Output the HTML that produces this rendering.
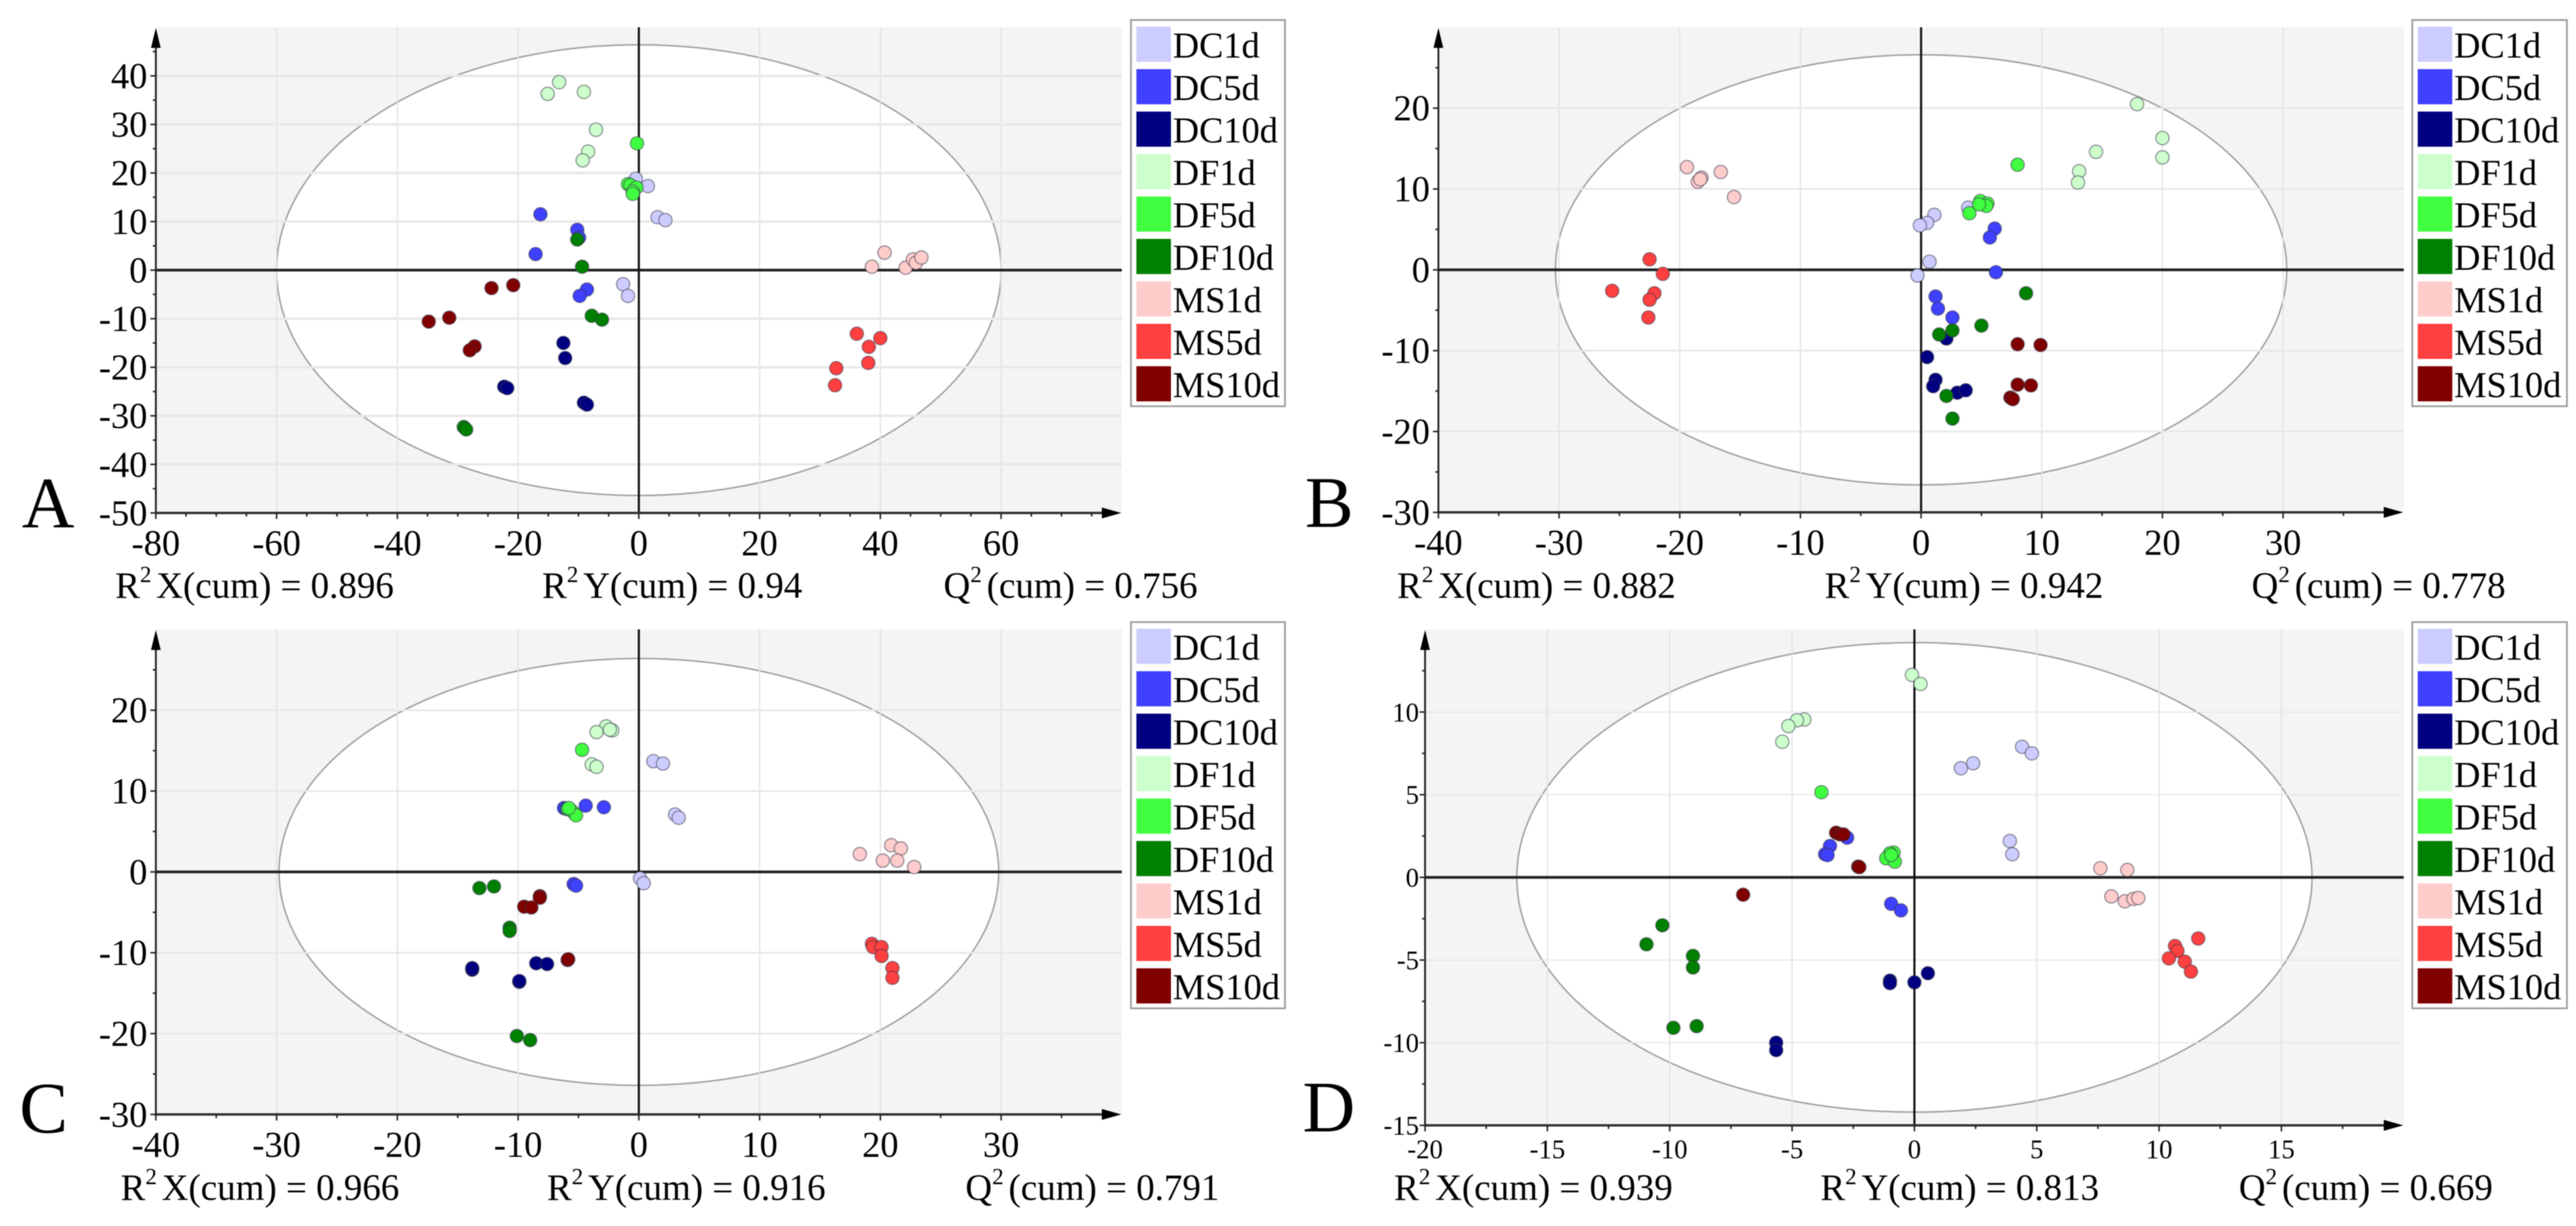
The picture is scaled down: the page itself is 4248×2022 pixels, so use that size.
<!DOCTYPE html>
<html lang="en">
<head>
<meta charset="utf-8">
<title>OPLS-DA score plots</title>
<style>
html,body{margin:0;padding:0;background:#fff;width:4248px;height:2022px;overflow:hidden}
svg{display:block;filter:blur(0.7px)}
text{font-family:"Liberation Serif","DejaVu Serif",serif;fill:#000}
</style>
</head>
<body>
<svg id="figure" xmlns="http://www.w3.org/2000/svg" width="4248" height="2022" viewBox="0 0 4248 2022"></svg>
<script>
const seriesNames = ["DC1d","DC5d","DC10d","DF1d","DF5d","DF10d","MS1d","MS5d","MS10d"];
const seriesColors = ["#ccccff","#4040ff","#000080","#ccffcc","#40ff40","#008000","#ffcccc","#ff4040","#800000"];

const panelA_DC1d = [[-0.5,18.8],[1.5,17.3],[3.1,10.9],[4.4,10.3],[-2.6,-2.9],[-1.8,-5.3]];
const panelA_DC5d = [[-16.3,11.5],[-10.2,8.3],[-9.9,6.7],[-17.1,3.3],[-8.6,-4],[-9.8,-5.3]];
const panelA_DC10d = [[-12.5,-15],[-12.2,-18.1],[-22.3,-24],[-21.8,-24.3],[-9.1,-27.3],[-8.6,-27.7]];
const panelA_DF1d = [[-13.2,38.7],[-15.1,36.3],[-9.1,36.7],[-7.1,28.9],[-8.4,24.4],[-9.3,22.6]];
const panelA_DF5d = [[-0.3,26.1],[-1.8,17.7],[-1.4,17.5],[-0.4,17],[-1,16.2],[-1,15.7]];
const panelA_DF10d = [[-10.2,6.3],[-9.4,0.7],[-7.8,-9.4],[-6.1,-10.2],[-29,-32.3],[-28.6,-32.8]];
const panelA_MS1d = [[40.7,3.6],[38.6,0.7],[44.2,0.5],[45.4,2.2],[45.9,1.5],[46.8,2.6]];
const panelA_MS5d = [[36.1,-13.1],[40,-14],[38.1,-15.8],[38,-19.1],[32.7,-20.2],[32.5,-23.7]];
const panelA_MS10d = [[-20.8,-3.1],[-24.4,-3.7],[-31.4,-9.8],[-34.8,-10.6],[-27.2,-15.7],[-28,-16.5]];

const panelB_DC1d = [[3.9,7.7],[1.1,6.8],[0.5,5.8],[-0.1,5.5],[0.7,1],[-0.3,-0.7]];
const panelB_DC5d = [[6.1,5.1],[5.7,4],[6.2,-0.3],[1.2,-3.3],[1.4,-4.8],[2.6,-5.9]];
const panelB_DC10d = [[2.1,-8.5],[0.5,-10.8],[1.2,-13.6],[1,-14.4],[3,-15.2],[3.7,-14.9]];
const panelB_DF1d = [[17.9,20.5],[20,16.3],[20,13.9],[14.5,14.6],[13.1,12.2],[13,10.8]];
const panelB_DF5d = [[8,13],[4.9,8.5],[5.5,8.2],[5.4,7.9],[4.8,8.1],[4,7]];
const panelB_DF10d = [[8.7,-2.9],[5,-6.9],[2.6,-7.5],[1.5,-8],[2.1,-15.6],[2.6,-18.4]];
const panelB_MS1d = [[-19.4,12.7],[-16.6,12.1],[-18.2,11.4],[-18.5,10.9],[-15.5,9],[-18.3,11.2]];
const panelB_MS5d = [[-22.5,1.3],[-21.4,-0.5],[-25.6,-2.6],[-22.1,-2.9],[-22.5,-3.7],[-22.6,-5.9]];
const panelB_MS10d = [[8,-9.2],[9.9,-9.3],[8,-14.2],[9.1,-14.3],[7.4,-15.8],[7.6,-16]];

const panelC_DC1d = [[1.2,13.7],[2,13.4],[3,7.1],[3.3,6.7],[0.1,-0.8],[0.4,-1.4]];
const panelC_DC5d = [[-6.2,7.9],[-6,7.8],[-4.4,8.2],[-2.9,8],[-5.4,-1.5],[-5.2,-1.7]];
const panelC_DC10d = [[-13.8,-12.1],[-13.8,-11.9],[-8.5,-11.3],[-7.6,-11.4],[-9.9,-13.6],[-9.9,-13.5]];
const panelC_DF1d = [[-2.7,18],[-2.2,17.5],[-3.5,17.3],[-3.9,13.3],[-3.5,13],[-2.4,17.6]];
const panelC_DF5d = [[-4.7,15.1],[-5.9,7.8],[-5.3,7.2],[-5.6,7.6],[-5.2,7],[-5.8,7.9]];
const panelC_DF10d = [[-13.2,-2],[-12,-1.8],[-10.7,-6.9],[-10.7,-7.3],[-10.1,-20.3],[-9,-20.8]];
const panelC_MS1d = [[20.9,3.3],[21.7,2.9],[18.3,2.2],[20.2,1.4],[21.4,1.4],[22.8,0.6]];
const panelC_MS5d = [[19.3,-8.9],[19.4,-9.3],[20.1,-9.3],[20.1,-10.4],[21,-11.9],[21,-13.1]];
const panelC_MS10d = [[-8.2,-3],[-8.2,-3.2],[-9.5,-4.3],[-8.9,-4.4],[-5.9,-10.9],[-5.85,-10.8]];

const panelD_DC1d = [[4.4,7.9],[4.8,7.5],[2.4,6.9],[1.9,6.6],[3.9,2.2],[4,1.4]];
const panelD_DC5d = [[-2.75,2.4],[-3.45,1.9],[-3.65,1.4],[-3.55,1.35],[-0.95,-1.6],[-0.55,-2]];
const panelD_DC10d = [[0.55,-5.8],[0,-6.35],[-1,-6.25],[-1,-6.4],[-5.65,-10],[-5.65,-10.45]];
const panelD_DF1d = [[-0.1,12.25],[0.25,11.7],[-4.5,9.55],[-4.8,9.5],[-5.15,9.15],[-5.4,8.2]];
const panelD_DF5d = [[-3.8,5.15],[-0.85,1.5],[-1,1.45],[-1.15,1.15],[-0.8,0.95],[-0.95,1.35]];
const panelD_DF10d = [[-10.3,-2.9],[-10.95,-4.05],[-9.05,-4.75],[-9.05,-5.45],[-9.85,-9.1],[-8.9,-9]];
const panelD_MS1d = [[7.6,0.55],[8.7,0.45],[8.05,-1.15],[8.6,-1.45],[8.95,-1.3],[9.15,-1.25]];
const panelD_MS5d = [[11.6,-3.7],[10.65,-4.15],[10.75,-4.45],[10.4,-4.9],[11.05,-5.1],[11.3,-5.7]];
const panelD_MS10d = [[-3.2,2.7],[-3.05,2.6],[-2.9,2.6],[-2.3,0.65],[-7,-1.05],[-2.25,0.62]];

const panelA_xTicks = [-80,-60,-40,-20,0,20,40,60];
const panelA_yTicks = [40,30,20,10,0,-10,-20,-30,-40,-50];
const panelB_xTicks = [-40,-30,-20,-10,0,10,20,30];
const panelB_yTicks = [20,10,0,-10,-20,-30];
const panelC_xTicks = [-40,-30,-20,-10,0,10,20,30];
const panelC_yTicks = [20,10,0,-10,-20,-30];
const panelD_xTicks = [-20,-15,-10,-5,0,5,10,15];
const panelD_yTicks = [10,5,0,-5,-10,-15];

const panelA_stats = ["0.896","0.94","0.756"];
const panelB_stats = ["0.882","0.942","0.778"];
const panelC_stats = ["0.966","0.916","0.791"];
const panelD_stats = ["0.939","0.813","0.669"];

const svg = document.getElementById('figure');
const NS = 'http://www.w3.org/2000/svg';

function mk(tag, attrs, parent) {
  const e = document.createElementNS(NS, tag);
  for (const k in attrs) e.setAttribute(k, attrs[k]);
  parent.appendChild(e);
  return e;
}

function drawStat(parent, x, y, head, tail, fs, name) {
  const t = mk('text', {x: x, y: y, 'font-size': fs}, parent);
  
  
  const a = mk('tspan', {}, t);
  a.textContent = head;
  const b = mk('tspan', {'font-size': 38, dy: -26}, t);
  b.textContent = '2';
  const c = mk('tspan', {dy: 26, dx: 8}, t);
  c.textContent = tail;
}

function drawPanel(p) {
  const g = mk('g', {}, svg);
  
  
  const sx = v => p.left + (v - p.xMin) / (p.xMax - p.xMin) * (p.right - p.left);
  const sy = v => p.bottom - (v - p.yMin) / (p.yMax - p.yMin) * (p.bottom - p.top);

  const bg = mk('rect', {x: p.left, y: p.top, width: p.right - p.left, height: p.bottom - p.top, fill: '#f4f4f4'}, g);
  
  

  const ell = mk('ellipse', {cx: sx(0), cy: sy(0), rx: Math.abs(sx(p.ellX) - sx(0)), ry: Math.abs(sy(p.ellY) - sy(0)), fill: '#fff', stroke: '#a0a0a0', 'stroke-width': 2.5}, g);
  
  

  p.xTicks.forEach(v => {
    if (v === 0 || v === p.xMin) return;
    const l = mk('line', {x1: sx(v), x2: sx(v), y1: p.top, y2: p.bottom, stroke: '#e2e2e2', 'stroke-width': 2}, g);
    
    
  });
  p.yTicks.forEach(v => {
    if (v === 0 || v === p.yMin) return;
    const l = mk('line', {x1: p.left, x2: p.right, y1: sy(v), y2: sy(v), stroke: '#e8e8e8', 'stroke-width': p.gridW}, g);
    
    
  });

  const zh = mk('line', {x1: p.left, x2: p.right, y1: sy(0), y2: sy(0), stroke: '#222', 'stroke-width': 4.5}, g);
  
  
  const zv = mk('line', {x1: sx(0), x2: sx(0), y1: p.top, y2: p.bottom, stroke: '#111', 'stroke-width': 3.5}, g);
  
  

  p.series.forEach((pts, i) => {
    const sg = mk('g', {}, g);
    
    
    pts.forEach(pt => {
      const c = mk('circle', {cx: sx(pt[0]), cy: sy(pt[1]), r: 11, fill: seriesColors[i], stroke: 'rgba(50,50,70,0.5)', 'stroke-width': 2}, sg);
      
      
    });
  });

  const ax = mk('line', {x1: p.left, x2: p.right - 30, y1: p.bottom, y2: p.bottom, stroke: '#333', 'stroke-width': 4}, g);
  
  
  const ay = mk('line', {x1: p.left, x2: p.left, y1: p.top + 28, y2: p.bottom + 2, stroke: '#222', 'stroke-width': 3}, g);
  
  
  const ah = mk('polygon', {points: (p.right - 33) + ',' + (p.bottom - 9) + ' ' + (p.right - 1) + ',' + p.bottom + ' ' + (p.right - 33) + ',' + (p.bottom + 9), fill: '#000'}, g);
  
  
  const av = mk('polygon', {points: (p.left - 8) + ',' + (p.top + 34) + ' ' + p.left + ',' + (p.top + 1) + ' ' + (p.left + 8) + ',' + (p.top + 34), fill: '#000'}, g);
  
  

  for (let v = p.xMin; v < p.xMax; v += p.xMinor) {
    const isMajor = p.xTicks.includes(v);
    const t = mk('line', {x1: sx(v), x2: sx(v), y1: p.bottom, y2: p.bottom + (isMajor ? 10 : 6), stroke: '#222', 'stroke-width': 2.5}, g);
    
    
  }
  for (let v = p.yMin; v < p.yMax - 0.01; v += p.yMinor) {
    const isMajor = p.yTicks.includes(v);
    const t = mk('line', {x1: p.left - (isMajor ? 9 : 5), x2: p.left, y1: sy(v), y2: sy(v), stroke: '#222', 'stroke-width': 2.5}, g);
    
    
  }

  p.xTicks.forEach(v => {
    const t = mk('text', {x: sx(v), y: p.bottom + p.xLabelDy, 'font-size': p.tickFs, 'text-anchor': 'middle'}, g);
    
    
    t.textContent = String(v);
  });
  p.yTicks.forEach(v => {
    const t = mk('text', {x: p.left - p.yLabelGap, y: sy(v) + p.tickFs * 0.34, 'font-size': p.tickFs, 'text-anchor': 'end'}, g);
    
    
    t.textContent = String(v);
  });

  const letter = mk('text', {x: p.letterX, y: p.letterY, 'font-size': 120}, g);
  
  
  letter.textContent = p.id;

  drawStat(g, p.statX[0], p.statY, 'R', 'X(cum) = ' + p.stats[0], 61, 'r2x-cum-label');
  drawStat(g, p.statX[1], p.statY, 'R', 'Y(cum) = ' + p.stats[1], 61, 'r2y-cum-label');
  drawStat(g, p.statX[2], p.statY, 'Q', '(cum) = ' + p.stats[2], 61, 'q2-cum-label');

  const lg = mk('g', {}, g);
  
  
  const box = mk('rect', {x: p.legX, y: p.legY, width: p.legW, height: 637, fill: '#fff', stroke: '#a0a0a0', 'stroke-width': 3}, lg);
  
  
  seriesNames.forEach((name, i) => {
    const sw = mk('rect', {x: p.legX + 9, y: p.legY + 11 + i * 70, width: 57, height: 58, fill: seriesColors[i]}, lg);
    
    
    const tx = mk('text', {x: p.legX + 69, y: p.legY + 62 + i * 70, 'font-size': 60}, lg);
    
    
    tx.textContent = name;
  });
}

drawPanel({id:'A', left:257, right:1850, top:45, bottom:846, xMin:-80, xMax:80, yMin:-50, yMax:50,
  ellX:60, ellY:46.4, xMinor:5, yMinor:5, gridW:4, tickFs:60, xLabelDy:70, yLabelGap:14,
  xTicks:panelA_xTicks, yTicks:panelA_yTicks, stats:panelA_stats,
  series:[panelA_DC1d,panelA_DC5d,panelA_DC10d,panelA_DF1d,panelA_DF5d,panelA_DF10d,panelA_MS1d,panelA_MS5d,panelA_MS10d],
  letterX:36, letterY:870, statX:[190,894,1556], statY:986, legX:1865, legY:33, legW:254});

drawPanel({id:'B', left:2372, right:3964, top:45, bottom:845, xMin:-40, xMax:40, yMin:-30, yMax:30,
  ellX:30.3, ellY:26.6, xMinor:5, yMinor:5, gridW:3, tickFs:60, xLabelDy:70, yLabelGap:14,
  xTicks:panelB_xTicks, yTicks:panelB_yTicks, stats:panelB_stats,
  series:[panelB_DC1d,panelB_DC5d,panelB_DC10d,panelB_DF1d,panelB_DF5d,panelB_DF10d,panelB_MS1d,panelB_MS5d,panelB_MS10d],
  letterX:2152, letterY:869, statX:[2304,3009,3713], statY:986, legX:3978, legY:33, legW:255});

drawPanel({id:'C', left:257, right:1850, top:1038, bottom:1838, xMin:-40, xMax:40, yMin:-30, yMax:30,
  ellX:29.8, ellY:26.4, xMinor:5, yMinor:5, gridW:3, tickFs:60, xLabelDy:70, yLabelGap:14,
  xTicks:panelC_xTicks, yTicks:panelC_yTicks, stats:panelC_stats,
  series:[panelC_DC1d,panelC_DC5d,panelC_DC10d,panelC_DF1d,panelC_DF5d,panelC_DF10d,panelC_MS1d,panelC_MS5d,panelC_MS10d],
  letterX:32, letterY:1868, statX:[199,902,1592], statY:1979, legX:1865, legY:1026, legW:254});

drawPanel({id:'D', left:2350, right:3964, top:1038, bottom:1856, xMin:-20, xMax:20, yMin:-15, yMax:15,
  ellX:16.25, ellY:14.2, xMinor:2.5, yMinor:2.5, gridW:2, tickFs:44, xLabelDy:54, yLabelGap:10,
  xTicks:panelD_xTicks, yTicks:panelD_yTicks, stats:panelD_stats,
  series:[panelD_DC1d,panelD_DC5d,panelD_DC10d,panelD_DF1d,panelD_DF5d,panelD_DF10d,panelD_MS1d,panelD_MS5d,panelD_MS10d],
  letterX:2148, letterY:1866, statX:[2299,3002,3692], statY:1979, legX:3978, legY:1026, legW:255});
</script>
</body>
</html>
